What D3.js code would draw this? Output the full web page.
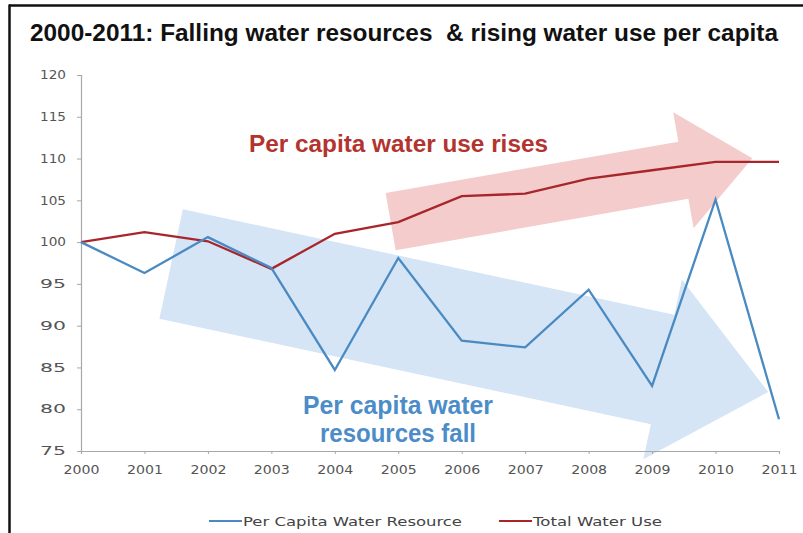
<!DOCTYPE html>
<html>
<head>
<meta charset="utf-8">
<script src="https://cdn.jsdelivr.net/npm/d3@7"></script>
<style>
  body { margin: 0; background: #fff; }
  svg { display: block; }
  text { white-space: pre; }
</style>
</head>
<body>
<svg width="803" height="533"></svg>
<script>
// data
const years = [2000, 2001, 2002, 2003, 2004, 2005, 2006, 2007, 2008, 2009, 2010, 2011];
const resourceValues = [100, 96.3, 100.6, 96.9, 84.7, 98.1, 88.2, 87.4, 94.3, 82.8, 105.1, 78.8];
const useValues = [100, 101.2, 100.1, 96.8, 101.0, 102.4, 105.5, 105.8, 107.6, 108.6, 109.6, 109.6];
const yTicks = [75, 80, 85, 90, 95, 100, 105, 110, 115, 120];
const seriesNames = ["Per Capita Water Resource", "Total Water Use"];
// annotation arrows: [year, value] of tail centre and tip
const useArrow = [[2004.88, 102.45], [2010.58, 110.05]];
const resourceArrow = [[2001.42, 97.37], [2010.83, 82.06]];

const blue = "#4a8ac2", red = "#a8262b";
const boldFont = "Liberation Sans Narrow, Liberation Sans, Arial, sans-serif";

const svg = d3.select("svg");
const width = 803, height = 533;

// frame
svg.append("line").attr("x1", 9).attr("x2", width).attr("y1", 5.5).attr("y2", 5.5)
  .attr("stroke", "#111").attr("stroke-width", 2.5);
svg.append("line").attr("x1", 9.5).attr("x2", 9.5).attr("y1", 4.5).attr("y2", height)
  .attr("stroke", "#111").attr("stroke-width", 2.5);

// fit a text element to a given width
function fit(sel, w) {
  sel.attr("textLength", w).attr("lengthAdjust", "spacingAndGlyphs");
}

svg.append("text")
  .attr("x", 30).attr("y", 41)
  .attr("font-family", boldFont)
  .attr("font-weight", "bold").attr("font-size", "23px").attr("fill", "#111")
  .text("2000-2011: Falling water resources  & rising water use per capita")
  .call(fit, 748);

const x = d3.scaleLinear().domain([2000, 2011]).range([81, 779]);
const y = d3.scaleLinear().domain([75, 120]).range([451, 75]);

// arrows
function arrowPath(a, bodyHalf, headHalf, headLen) {
  const x0 = x(a[0][0]), y0 = y(a[0][1]), x1 = x(a[1][0]), y1 = y(a[1][1]);
  const L = Math.hypot(x1 - x0, y1 - y0);
  const ux = (x1 - x0) / L, uy = (y1 - y0) / L;
  const vx = -uy, vy = ux;
  const b = L - headLen;
  const p = (s, t) => [x0 + ux * s + vx * t, y0 + uy * s + vy * t];
  return d3.line()([p(0, -bodyHalf), p(b, -bodyHalf), p(b, -headHalf), p(L, 0),
                    p(b, headHalf), p(b, bodyHalf), p(0, bodyHalf)]) + "Z";
}
svg.append("path").attr("d", arrowPath(resourceArrow, 56, 92, 108))
  .attr("fill", "#d5e5f5");
svg.append("path").attr("d", arrowPath(useArrow, 29, 59, 70))
  .attr("fill", "#f2c9c8").attr("opacity", 0.95);

// axes
const axisColor = "#a8a8a8", labelColor = "#555";
const yAxis = svg.append("g").attr("transform", "translate(81,0)")
  .call(d3.axisLeft(y).tickValues(yTicks).tickSize(4).tickPadding(11));
const xAxis = svg.append("g").attr("transform", "translate(0,451)")
  .call(d3.axisBottom(x).tickValues(years).tickFormat(d3.format("d")).tickSize(3).tickPadding(12));
[yAxis, xAxis].forEach(g => {
  g.select(".domain").attr("stroke", axisColor).attr("stroke-width", 1.2);
  g.selectAll(".tick line").attr("stroke", axisColor);
  g.selectAll(".tick text").attr("fill", labelColor)
    .attr("font-family", "DejaVu Sans, sans-serif").attr("font-size", "11.5px");
});
yAxis.selectAll(".tick text").call(fit, 26);
xAxis.selectAll(".tick text").call(fit, 36);

// lines
const line = d3.line().x((d, i) => x(years[i])).y(d => y(d));
svg.append("path").datum(useValues).attr("d", line)
  .attr("fill", "none").attr("stroke", red).attr("stroke-width", 2.3);
svg.append("path").datum(resourceValues).attr("d", line)
  .attr("fill", "none").attr("stroke", blue).attr("stroke-width", 2.3);

// annotations
svg.append("text").attr("x", 249).attr("y", 152)
  .attr("font-family", boldFont)
  .attr("font-weight", "bold").attr("font-size", "23px").attr("fill", "#b3342f")
  .text("Per capita water use rises").call(fit, 299);
svg.append("text").attr("x", 303).attr("y", 414)
  .attr("font-family", boldFont)
  .attr("font-weight", "bold").attr("font-size", "25px").attr("fill", "#4c8cc8")
  .text("Per capita water").call(fit, 190);
svg.append("text").attr("x", 320).attr("y", 442)
  .attr("font-family", boldFont)
  .attr("font-weight", "bold").attr("font-size", "25px").attr("fill", "#4c8cc8")
  .text("resources fall").call(fit, 156);

// legend
const legendX = [209, 499], legendW = [219, 129];
const legend = svg.selectAll(".legend").data(seriesNames).enter().append("g")
  .attr("transform", (d, i) => `translate(${legendX[i]},521)`);
legend.append("line").attr("x1", 0).attr("x2", 33).attr("y1", 0).attr("y2", 0)
  .attr("stroke", (d, i) => i === 0 ? blue : red).attr("stroke-width", 2);
legend.append("text").attr("x", 34).attr("y", 4.5)
  .attr("font-family", "DejaVu Sans, sans-serif").attr("font-size", "12px").attr("fill", "#444")
  .text(d => d)
  .each(function(d, i) { d3.select(this).call(fit, legendW[i]); });
</script>
</body>
</html>
